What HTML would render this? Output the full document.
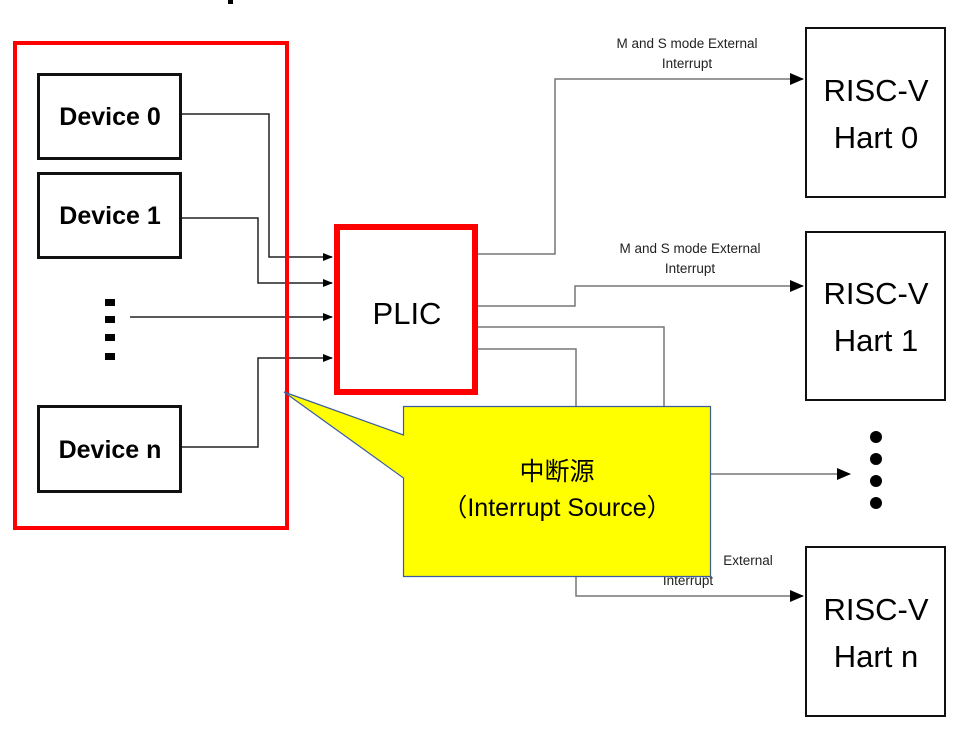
<!DOCTYPE html>
<html><head><meta charset="utf-8"><style>
html,body{margin:0;padding:0;background:#fff;width:974px;height:733px;overflow:hidden}
svg{display:block}
</style></head><body>
<svg width="974" height="733" viewBox="0 0 974 733" xmlns="http://www.w3.org/2000/svg" font-family="Liberation Sans, sans-serif">
<defs>
<marker id="a" markerWidth="10" markerHeight="10" refX="9" refY="5" orient="auto" markerUnits="userSpaceOnUse"><path d="M0,1 L10,5 L0,9 z" fill="#000"/></marker>
<marker id="b" markerWidth="14" markerHeight="14" refX="13" refY="7" orient="auto" markerUnits="userSpaceOnUse"><path d="M0,1 L14,7 L0,13 z" fill="#000"/></marker>
</defs>
<rect x="228" y="0" width="5" height="4" fill="#000"/>
<!-- left connectors -->
<g fill="none" stroke="#222" stroke-width="1.5">
<polyline points="181,114 269,114 269,257 332,257" marker-end="url(#a)"/>
<polyline points="181,218 258,218 258,283 332,283" marker-end="url(#a)"/>
<polyline points="130,317 332,317" marker-end="url(#a)"/>
<polyline points="181,447 258,447 258,358 332,358" marker-end="url(#a)"/>
</g>
<rect x="15" y="43" width="272" height="485" fill="none" stroke="#f00" stroke-width="4"/>
<g fill="#fff" stroke="#111" stroke-width="3">
<rect x="38.5" y="74.5" width="142" height="84"/>
<rect x="38.5" y="173.5" width="142" height="84"/>
<rect x="38.5" y="406.5" width="142" height="85"/>
</g>
<g font-weight="bold" font-size="25" text-anchor="middle" fill="#000">
<text x="110" y="125">Device 0</text>
<text x="110" y="224">Device 1</text>
<text x="110" y="458">Device n</text>
</g>
<g fill="#000"><rect x="105" y="299" width="10" height="7"/><rect x="105" y="316" width="10" height="7"/><rect x="105" y="334" width="10" height="7"/><rect x="105" y="353" width="10" height="7"/></g>
<!-- right connectors -->
<g fill="none" stroke="#777" stroke-width="1.5">
<polyline points="478,254 555,254 555,79 803,79" marker-end="url(#b)"/>
<polyline points="478,306 575,306 575,286 803,286" marker-end="url(#b)"/>
<polyline points="478,327 664,327 664,410"/>
<polyline points="478,349 576,349 576,596 803,596" marker-end="url(#b)"/>
<polyline points="700,474 850,474" marker-end="url(#b)"/>
</g>
<rect x="337" y="227" width="138" height="165" fill="#fff" stroke="#f00" stroke-width="6"/>
<text x="407" y="324" font-size="31" text-anchor="middle">PLIC</text>
<g font-size="13.5" fill="#222" text-anchor="middle">
<text x="687" y="48">M and S mode External</text><text x="687" y="68">Interrupt</text>
<text x="690" y="253">M and S mode External</text><text x="690" y="273">Interrupt</text>
<text x="748" y="565">External</text><text x="688" y="585">Interrupt</text>
</g>
<!-- callout -->
<path d="M403.5,406.5 L710.5,406.5 L710.5,576.5 L403.5,576.5 L403.5,478 L284,392 L403.5,435 Z" fill="#ff0" stroke="#3b5ca0" stroke-width="1.2"/>
<g font-size="25" text-anchor="middle" fill="#000" font-family="Liberation Sans, Noto Sans CJK SC, sans-serif">
<text x="557" y="480">中断源</text>
<text x="557" y="516">（Interrupt Source）</text>
</g>
<!-- harts -->
<g fill="#fff" stroke="#111" stroke-width="2">
<rect x="806" y="28" width="139" height="169"/>
<rect x="806" y="232" width="139" height="168"/>
<rect x="806" y="547" width="139" height="169"/>
</g>
<g font-size="31" text-anchor="middle" fill="#000">
<text x="876" y="101">RISC-V</text><text x="876" y="148">Hart 0</text>
<text x="876" y="304">RISC-V</text><text x="876" y="351">Hart 1</text>
<text x="876" y="620">RISC-V</text><text x="876" y="667">Hart n</text>
</g>
<g fill="#000"><circle cx="876" cy="437" r="6"/><circle cx="876" cy="459" r="6"/><circle cx="876" cy="481" r="6"/><circle cx="876" cy="503" r="6"/></g>
</svg>
</body></html>
